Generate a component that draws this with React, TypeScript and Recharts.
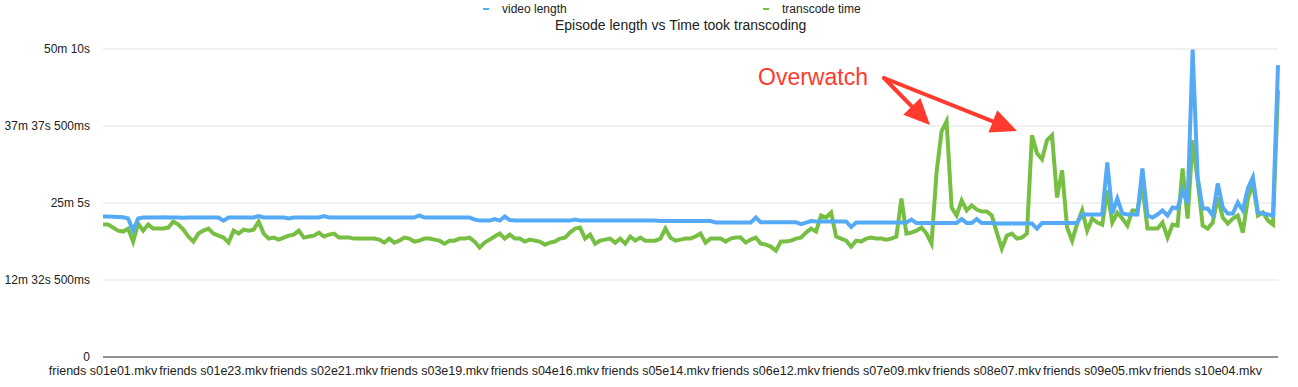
import { CartesianGrid, Line, LineChart, XAxis, YAxis } from "recharts";

// episodes per season; one s09 episode is missing from the run
const SEASON_EPISODES = [24, 24, 25, 24, 24, 25, 24, 24, 23, 18];

const pad = (n: number) => String(n).padStart(2, "0");
const EPISODES: string[] = SEASON_EPISODES.flatMap((count, s) =>
  Array.from({ length: count }, (_, e) => `friends s${pad(s + 1)}e${pad(e + 1)}.mkv`)
);

// seconds
const VIDEO_LENGTH = [
  1373, 1373, 1370, 1368, 1365, 1353, 1235, 1353, 1363, 1363,
  1363, 1363, 1365, 1363, 1363, 1363, 1360, 1363, 1363, 1363,
  1363, 1363, 1363, 1363, 1333, 1363, 1363, 1363, 1363, 1363,
  1363, 1378, 1363, 1363, 1363, 1363, 1363, 1353, 1363, 1363,
  1363, 1363, 1363, 1363, 1378, 1363, 1363, 1363, 1363, 1363,
  1363, 1363, 1363, 1363, 1363, 1363, 1363, 1363, 1363, 1363,
  1363, 1363, 1363, 1383, 1363, 1363, 1363, 1363, 1363, 1363,
  1363, 1363, 1363, 1363, 1343, 1333, 1333, 1333, 1348, 1333,
  1373, 1338, 1333, 1333, 1333, 1333, 1333, 1333, 1333, 1333,
  1333, 1333, 1333, 1333, 1343, 1333, 1333, 1333, 1333, 1333,
  1333, 1333, 1333, 1333, 1333, 1333, 1333, 1333, 1333, 1333,
  1333, 1328, 1328, 1328, 1328, 1328, 1328, 1328, 1328, 1328,
  1328, 1328, 1314, 1314, 1314, 1314, 1314, 1314, 1314, 1314,
  1363, 1317, 1317, 1317, 1317, 1317, 1317, 1317, 1317, 1299,
  1314, 1328, 1324, 1324, 1324, 1324, 1324, 1324, 1324, 1270,
  1314, 1314, 1314, 1314, 1314, 1314, 1314, 1314, 1314, 1314,
  1314, 1343, 1309, 1309, 1309, 1309, 1309, 1309, 1309, 1309,
  1309, 1348, 1309, 1309, 1348, 1309, 1309, 1309, 1304, 1304,
  1304, 1304, 1304, 1304, 1304, 1304, 1255, 1309, 1309, 1309,
  1309, 1309, 1309, 1309, 1309, 1392, 1392, 1392, 1392, 1392,
  1902, 1402, 1549, 1402, 1392, 1392, 1392, 1843, 1383, 1363,
  1392, 1432, 1383, 1461, 1451, 1628, 1500, 3005, 1755, 1451,
  1451, 1383, 1696, 1461, 1402, 1402, 1510, 1432, 1647, 1755,
  1412, 1402, 1392, 1383, 2853,
];

const TRANSCODE_TIME = [
  1294, 1294, 1265, 1235, 1226, 1255, 1128, 1304, 1235, 1294,
  1255, 1255, 1255, 1265, 1324, 1294, 1245, 1177, 1128, 1206,
  1235, 1255, 1206, 1186, 1167, 1118, 1235, 1206, 1245, 1235,
  1245, 1324, 1206, 1157, 1167, 1147, 1167, 1186, 1196, 1235,
  1167, 1177, 1186, 1216, 1177, 1196, 1206, 1167, 1167, 1167,
  1157, 1157, 1157, 1157, 1157, 1147, 1118, 1157, 1118, 1137,
  1167, 1157, 1128, 1137, 1157, 1157, 1147, 1137, 1108, 1137,
  1137, 1157, 1157, 1167, 1128, 1069, 1118, 1147, 1177, 1206,
  1157, 1196, 1157, 1157, 1128, 1147, 1137, 1128, 1098, 1118,
  1128, 1157, 1167, 1216, 1255, 1265, 1157, 1196, 1108, 1137,
  1147, 1157, 1118, 1157, 1108, 1177, 1137, 1167, 1137, 1137,
  1137, 1157, 1255, 1167, 1137, 1147, 1157, 1157, 1177, 1206,
  1118, 1157, 1157, 1157, 1128, 1157, 1167, 1167, 1118, 1147,
  1167, 1108, 1098, 1079, 1039, 1128, 1128, 1137, 1157, 1167,
  1216, 1255, 1226, 1383, 1363, 1412, 1177, 1157, 1137, 1079,
  1137, 1128, 1157, 1167, 1157, 1157, 1147, 1157, 1177, 1549,
  1206, 1216, 1235, 1265, 1206, 1108, 1804, 2206, 2304, 1461,
  1383, 1530, 1432, 1481, 1441, 1422, 1422, 1383, 1216, 1059,
  1186, 1206, 1157, 1167, 1206, 2167, 1990, 1932, 2118, 2167,
  1559, 1824, 1265, 1137, 1304, 1432, 1235, 1353, 1314, 1294,
  1628, 1314, 1412, 1353, 1284, 1432, 1432, 1677, 1255, 1255,
  1255, 1314, 1167, 1294, 1284, 1843, 1353, 2118, 1726, 1284,
  1255, 1314, 1559, 1363, 1304, 1353, 1383, 1216, 1549, 1696,
  1383, 1412, 1333, 1294, 2608,
];

const Y_TICKS = [0, 752.5, 1505, 2257.5, 3010];
const Y_TICK_LABELS = ["0", "12m 32s 500ms", "25m 5s", "37m 37s 500ms", "50m 10s"];

const BLUE = "#55aaf6";
const GREEN = "#77bf43";
const RED = "#ff3b30";

const data = EPISODES.map((name, i) => ({
  name,
  video: VIDEO_LENGTH[i],
  transcode: TRANSCODE_TIME[i],
}));

function YTick({ x, y, payload }: { x: number; y: number; payload: { value: number } }) {
  return (
    <text x={x} y={y} dy="0.35em" textAnchor="end" fontSize={12} fill="#222">
      {Y_TICK_LABELS[Y_TICKS.indexOf(payload.value)]}
    </text>
  );
}

function XTick({ x, y, payload }: { x: number; y: number; payload: { value: string } }) {
  return (
    <text x={x} y={y} dy="0.71em" textAnchor="middle" fontSize={12.5} fill="#222">
      {payload.value}
    </text>
  );
}

function Arrow({ x1, y1, x2, y2 }: { x1: number; y1: number; x2: number; y2: number }) {
  const len = Math.hypot(x2 - x1, y2 - y1);
  const ux = (x2 - x1) / len;
  const uy = (y2 - y1) / len;
  const head = 26;
  const half = 12;
  const bx = x2 - ux * head;
  const by = y2 - uy * head;
  const pts = `${x2},${y2} ${bx - uy * half},${by + ux * half} ${bx + uy * half},${by - ux * half}`;
  return (
    <g>
      <line x1={x1} y1={y1} x2={bx + ux * 2} y2={by + uy * 2} stroke={RED} strokeWidth={4} strokeLinecap="round" />
      <polygon points={pts} fill={RED} />
    </g>
  );
}

const legendItems = [
  { label: "video length", color: BLUE, left: 483 },
  { label: "transcode time", color: GREEN, left: 763 },
];

export default function App() {
  return (
    <div
      style={{
        position: "absolute",
        left: 0,
        top: 0,
        width: 1298,
        height: 387,
        background: "#fff",
        fontFamily: "'Liberation Sans', Arial, Helvetica, sans-serif",
      }}
    >
      <LineChart width={1298} height={387} data={data} margin={{ top: 49, right: 20, bottom: 0, left: 0 }}>
        <CartesianGrid horizontal vertical={false} stroke="#e2e2e2" />
        <XAxis
          dataKey="name"
          interval={21}
          tickLine={false}
          tickSize={0}
          tickMargin={9}
          height={30}
          axisLine={{ stroke: "#333", strokeWidth: 1 }}
          tick={XTick}
        />
        <YAxis
          width={103}
          domain={[0, 3010]}
          ticks={Y_TICKS}
          axisLine={false}
          tickLine={false}
          tickSize={0}
          tickMargin={13}
          tick={YTick}
        />
        <Line
          type="linear"
          dataKey="transcode"
          name="transcode time"
          stroke={GREEN}
          strokeWidth={4}
          dot={false}
          isAnimationActive={false}
        />
        <Line
          type="linear"
          dataKey="video"
          name="video length"
          stroke={BLUE}
          strokeWidth={4}
          dot={false}
          isAnimationActive={false}
        />
      </LineChart>
      {legendItems.map((it) => (
        <div
          key={it.label}
          style={{
            position: "absolute",
            left: it.left,
            top: 2,
            display: "flex",
            alignItems: "center",
            fontSize: 12,
            color: "#222",
          }}
        >
          <span style={{ display: "inline-block", width: 6, height: 2, background: it.color, marginRight: 13 }} />
          {it.label}
        </div>
      ))}
      <div
        style={{
          position: "absolute",
          top: 17,
          left: 555,
          fontSize: 14,
          color: "#222",
          whiteSpace: "nowrap",
        }}
      >
        Episode length vs Time took transcoding
      </div>
      <svg width={1298} height={387} style={{ position: "absolute", left: 0, top: 0, pointerEvents: "none" }}>
        <text x={758} y={85} fontSize={23} fill={RED}>
          Overwatch
        </text>
        <Arrow x1={884} y1={78} x2={930} y2={125} />
        <Arrow x1={884} y1={78} x2={1017} y2={131} />
      </svg>
    </div>
  );
}
